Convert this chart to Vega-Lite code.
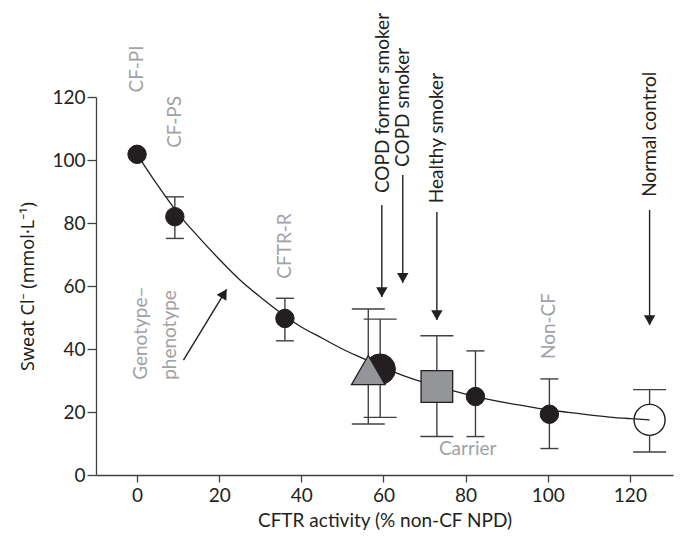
{
  "$schema": "https://vega.github.io/schema/vega-lite/v6.json",
  "width": 577,
  "height": 378,
  "autosize": {"type": "none"},
  "padding": {"left": 96, "top": 97, "right": 7, "bottom": 62},
  "config": {
    "view": {"stroke": null},
    "font": "Lato",
    "axis": {
      "grid": false,
      "domainColor": "#414042",
      "domainWidth": 1.3,
      "tickColor": "#414042",
      "tickWidth": 1.3,
      "labelFont": "Lato",
      "labelFontSize": 19,
      "labelColor": "#231f20",
      "titleFont": "Lato",
      "titleFontSize": 19,
      "titleFontWeight": "normal",
      "titleColor": "#231f20"
    }
  },
  "datasets": {
    "groups": [
      {"group": "CF-PI", "cohort": "CF spectrum", "activity": 0, "chloride": 101.8, "lo": null, "hi": null},
      {"group": "CF-PS", "cohort": "CF spectrum", "activity": 9.2, "chloride": 82, "lo": 75.1, "hi": 88.3},
      {"group": "CFTR-R", "cohort": "CF spectrum", "activity": 36, "chloride": 49.7, "lo": 42.6, "hi": 56.1},
      {"group": "COPD former smoker", "cohort": "comparison", "activity": 59.2, "chloride": 33.6, "lo": 18.3, "hi": 49.5},
      {"group": "COPD smoker", "cohort": "comparison", "activity": 56.3, "chloride": 33.3, "lo": 16.2, "hi": 52.7},
      {"group": "Healthy smoker", "cohort": "comparison", "activity": 73, "chloride": 28.1, "lo": 12.2, "hi": 44.2},
      {"group": "Carrier", "cohort": "CF spectrum", "activity": 82.4, "chloride": 24.9, "lo": 12.2, "hi": 39.4},
      {"group": "Non-CF", "cohort": "CF spectrum", "activity": 100.4, "chloride": 19.3, "lo": 8.4, "hi": 30.5},
      {"group": "Normal control", "cohort": "comparison", "activity": 124.8, "chloride": 17.5, "lo": 7.3, "hi": 27.1}
    ],
    "curve": [
      {"activity": 0, "chloride": 101.8},
      {"activity": 5, "chloride": 92},
      {"activity": 10, "chloride": 83},
      {"activity": 15, "chloride": 75.5},
      {"activity": 20, "chloride": 68.5},
      {"activity": 25, "chloride": 62},
      {"activity": 30, "chloride": 56.5},
      {"activity": 36, "chloride": 50.5},
      {"activity": 40, "chloride": 47},
      {"activity": 45, "chloride": 43.5},
      {"activity": 50, "chloride": 40},
      {"activity": 55, "chloride": 37},
      {"activity": 60, "chloride": 34},
      {"activity": 65, "chloride": 31.5},
      {"activity": 70, "chloride": 29.3},
      {"activity": 75, "chloride": 27.4},
      {"activity": 80, "chloride": 25.7},
      {"activity": 85, "chloride": 24.2},
      {"activity": 90, "chloride": 22.9},
      {"activity": 95, "chloride": 21.8},
      {"activity": 100, "chloride": 20.7},
      {"activity": 105, "chloride": 19.9},
      {"activity": 110, "chloride": 19.1},
      {"activity": 115, "chloride": 18.4},
      {"activity": 120, "chloride": 17.9},
      {"activity": 124.8, "chloride": 17.5}
    ],
    "grayLabels": [
      {"text": "CF-PI", "activity": 0, "chloride": 128.9},
      {"text": "CF-PS", "activity": 9.3, "chloride": 112.1},
      {"text": "CFTR-R", "activity": 36.1, "chloride": 72.7},
      {"text": "Non-CF", "activity": 100.4, "chloride": 47.3}
    ],
    "blackLabels": [
      {"text": "COPD former smoker", "activity": 60, "chloride": 89.5, "tip": 56.5, "top": 85.7, "arrowX": 59.6},
      {"text": "COPD smoker", "activity": 64.85, "chloride": 97.8, "tip": 61, "top": 95.2, "arrowX": 64.7},
      {"text": "Healthy smoker", "activity": 73, "chloride": 86.3, "tip": 49.2, "top": 83.5, "arrowX": 73},
      {"text": "Normal control", "activity": 124.8, "chloride": 88.3, "tip": 47.6, "top": 84.1, "arrowX": 124.8}
    ],
    "genoArrow": [
      {"activity": 11.3, "chloride": 36.5, "tipActivity": 21.8, "tipChloride": 58.9}
    ]
  },
  "layer": [
    {
      "data": {"name": "groups"},
      "transform": [{"filter": "isValid(datum.lo)"}],
      "mark": {"type": "rule", "color": "#414042", "strokeWidth": 1.4},
      "encoding": {
        "x": {"field": "activity", "type": "quantitative", "scale": {"domain": [-10, 130.5], "nice": false, "zero": false},
          "axis": {"values": [0, 20, 40, 60, 80, 100, 120], "title": "CFTR activity (% non-CF NPD)", "tickSize": 7, "labelPadding": 4, "titlePadding": 6}},
        "y": {"field": "lo", "type": "quantitative", "scale": {"domain": [0, 120], "nice": false},
          "axis": {"values": [0, 20, 40, 60, 80, 100, 120], "title": "Sweat Cl⁻ (mmol·L⁻¹)", "titleFont": "Noto Sans", "titleFontSize": 18, "tickSize": 9, "labelPadding": 2, "titlePadding": 14}},
        "y2": {"field": "hi"}
      }
    },
    {
      "data": {"name": "groups"},
      "transform": [{"filter": "isValid(datum.lo) && datum.cohort == 'CF spectrum'"}, {"fold": ["lo", "hi"], "as": ["end", "value"]}],
      "mark": {"type": "tick", "orient": "horizontal", "color": "#414042", "thickness": 1.4, "size": 18, "opacity": 1},
      "encoding": {
        "x": {"field": "activity", "type": "quantitative"},
        "y": {"field": "value", "type": "quantitative"}
      }
    },
    {
      "data": {"name": "groups"},
      "transform": [{"filter": "isValid(datum.lo) && datum.cohort == 'comparison'"}, {"fold": ["lo", "hi"], "as": ["end", "value"]}],
      "mark": {"type": "tick", "orient": "horizontal", "color": "#414042", "thickness": 1.4, "size": 33, "opacity": 1},
      "encoding": {
        "x": {"field": "activity", "type": "quantitative"},
        "y": {"field": "value", "type": "quantitative"}
      }
    },
    {
      "data": {"name": "curve"},
      "mark": {"type": "line", "color": "#231f20", "strokeWidth": 1.3, "interpolate": "monotone"},
      "encoding": {
        "x": {"field": "activity", "type": "quantitative"},
        "y": {"field": "chloride", "type": "quantitative"}
      }
    },
    {
      "data": {"name": "groups"},
      "transform": [{"filter": "datum.cohort == 'CF spectrum'"}],
      "mark": {"type": "point", "shape": "circle", "filled": true, "fill": "#231f20", "stroke": "#231f20", "strokeWidth": 1, "size": 340, "opacity": 1},
      "encoding": {
        "x": {"field": "activity", "type": "quantitative"},
        "y": {"field": "chloride", "type": "quantitative"}
      }
    },
    {
      "data": {"name": "groups"},
      "transform": [{"filter": "datum.group == 'COPD former smoker'"}],
      "mark": {"type": "point", "shape": "circle", "filled": true, "fill": "#231f20", "stroke": "#231f20", "strokeWidth": 1, "size": 930, "opacity": 1},
      "encoding": {
        "x": {"field": "activity", "type": "quantitative"},
        "y": {"field": "chloride", "type": "quantitative"}
      }
    },
    {
      "data": {"name": "groups"},
      "transform": [{"filter": "datum.group == 'COPD smoker'"}],
      "mark": {"type": "point", "shape": "triangle-up", "filled": true, "fill": "#939598", "stroke": "#231f20", "strokeWidth": 1.3, "size": 1130, "opacity": 1},
      "encoding": {
        "x": {"field": "activity", "type": "quantitative"},
        "y": {"field": "chloride", "type": "quantitative"}
      }
    },
    {
      "data": {"name": "groups"},
      "transform": [{"filter": "datum.group == 'Healthy smoker'"}],
      "mark": {"type": "point", "shape": "square", "filled": true, "fill": "#939598", "stroke": "#231f20", "strokeWidth": 1.3, "size": 1000, "opacity": 1},
      "encoding": {
        "x": {"field": "activity", "type": "quantitative"},
        "y": {"field": "chloride", "type": "quantitative"}
      }
    },
    {
      "data": {"name": "groups"},
      "transform": [{"filter": "datum.group == 'Normal control'"}],
      "mark": {"type": "point", "shape": "circle", "filled": true, "fill": "#ffffff", "stroke": "#231f20", "strokeWidth": 1.4, "size": 960, "opacity": 1},
      "encoding": {
        "x": {"field": "activity", "type": "quantitative"},
        "y": {"field": "chloride", "type": "quantitative"}
      }
    },
    {
      "data": {"values": [{"activity": 121.2, "chloride": 17.8}, {"activity": 124.8, "chloride": 17.5}]},
      "mark": {"type": "line", "color": "#231f20", "strokeWidth": 1.3},
      "encoding": {
        "x": {"field": "activity", "type": "quantitative"},
        "y": {"field": "chloride", "type": "quantitative"}
      }
    },
    {
      "data": {"name": "blackLabels"},
      "mark": {"type": "rule", "color": "#231f20", "strokeWidth": 1.4},
      "encoding": {
        "x": {"field": "arrowX", "type": "quantitative"},
        "y": {"field": "top", "type": "quantitative"},
        "y2": {"field": "tip"}
      }
    },
    {
      "data": {"name": "blackLabels"},
      "mark": {"type": "point", "shape": "triangle-down", "filled": true, "color": "#231f20", "size": 130, "opacity": 1, "yOffset": -4.8},
      "encoding": {
        "x": {"field": "arrowX", "type": "quantitative"},
        "y": {"field": "tip", "type": "quantitative"}
      }
    },
    {
      "data": {"name": "blackLabels"},
      "mark": {"type": "text", "angle": 270, "align": "left", "baseline": "middle", "fontSize": 19, "color": "#231f20"},
      "encoding": {
        "x": {"field": "activity", "type": "quantitative"},
        "y": {"field": "chloride", "type": "quantitative"},
        "text": {"field": "text"}
      }
    },
    {
      "data": {"name": "grayLabels"},
      "mark": {"type": "text", "angle": 270, "align": "center", "baseline": "middle", "fontSize": 19, "color": "#a0a2a5"},
      "encoding": {
        "x": {"field": "activity", "type": "quantitative"},
        "y": {"field": "chloride", "type": "quantitative"},
        "text": {"field": "text"}
      }
    },
    {
      "data": {"values": [{"text": "Carrier", "activity": 80.5, "chloride": 8.3}]},
      "mark": {"type": "text", "align": "center", "baseline": "middle", "fontSize": 19, "color": "#a0a2a5"},
      "encoding": {
        "x": {"field": "activity", "type": "quantitative"},
        "y": {"field": "chloride", "type": "quantitative"},
        "text": {"field": "text"}
      }
    },
    {
      "data": {"values": [{"text": "Genotype–\nphenotype", "activity": 0.9, "chloride": 30.2}]},
      "mark": {"type": "text", "angle": 270, "align": "left", "baseline": "middle", "fontSize": 19, "lineHeight": 29, "lineBreak": "\n", "color": "#a0a2a5"},
      "encoding": {
        "x": {"field": "activity", "type": "quantitative"},
        "y": {"field": "chloride", "type": "quantitative"},
        "text": {"field": "text"}
      }
    },
    {
      "data": {"name": "genoArrow"},
      "mark": {"type": "rule", "color": "#231f20", "strokeWidth": 1.4},
      "encoding": {
        "x": {"field": "activity", "type": "quantitative"},
        "y": {"field": "chloride", "type": "quantitative"},
        "x2": {"field": "tipActivity"},
        "y2": {"field": "tipChloride"}
      }
    },
    {
      "data": {"name": "genoArrow"},
      "mark": {"type": "point", "shape": "triangle-up", "filled": true, "color": "#231f20", "size": 130, "opacity": 1, "angle": 31.5, "xOffset": -2.5, "yOffset": 4},
      "encoding": {
        "x": {"field": "tipActivity", "type": "quantitative"},
        "y": {"field": "tipChloride", "type": "quantitative"}
      }
    }
  ]
}
